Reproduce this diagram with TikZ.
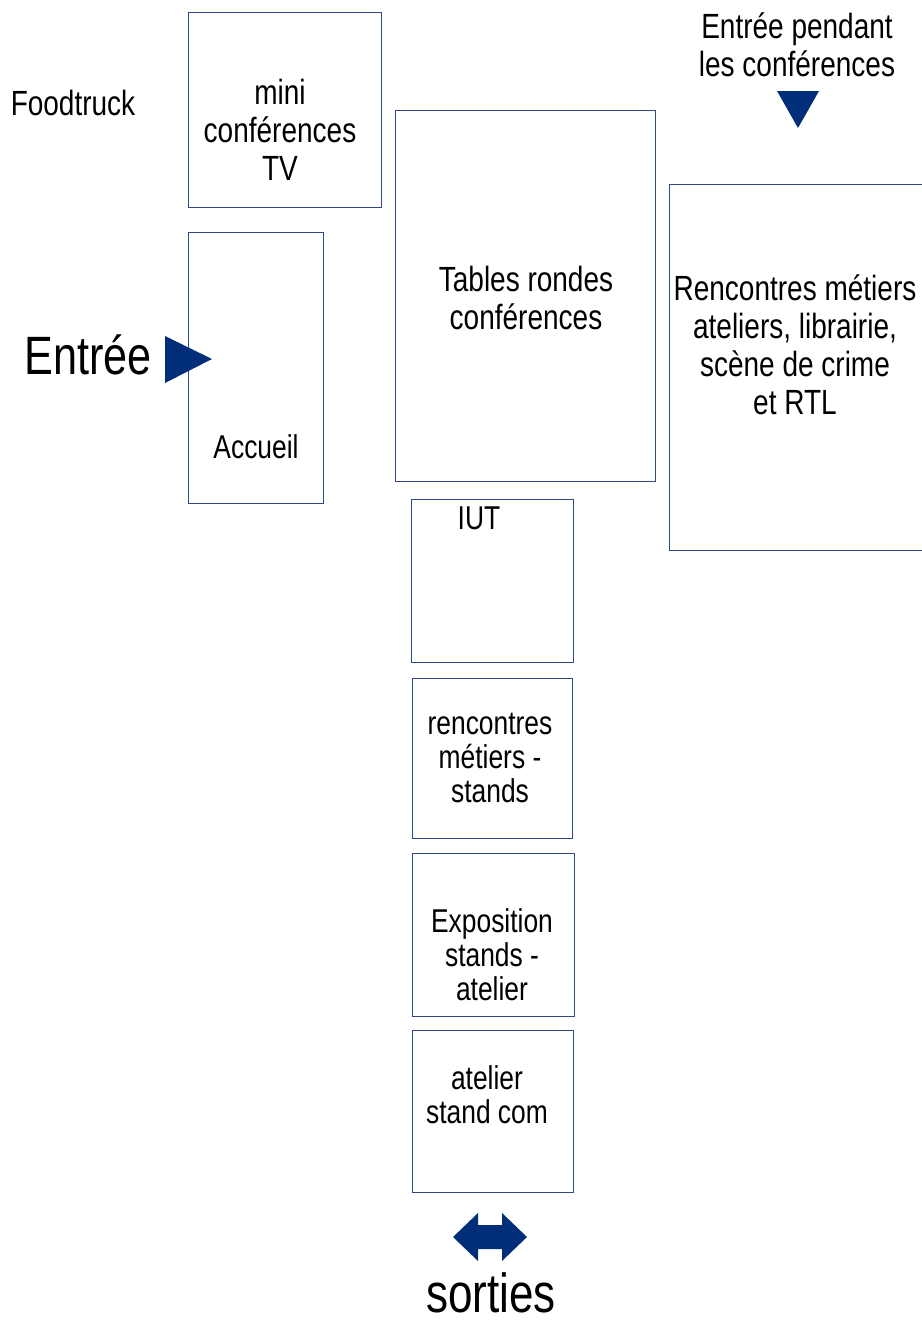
\documentclass[tikz,border=0pt]{standalone}
\usepackage{fontspec}
\setmainfont{Liberation Sans}[FakeStretch=0.8]
\definecolor{boxblue}{RGB}{47,74,140}
\definecolor{arrowblue}{RGB}{0,46,120}
\begin{document}
\begin{tikzpicture}[x=1pt,y=-1pt,
  room/.style={draw=boxblue,line width=1pt,fill=none,inner sep=0pt},
  txtA/.style={align=center,inner sep=0pt,font=\fontsize{35}{38}\selectfont},
  txtB/.style={align=center,inner sep=0pt,font=\fontsize{33}{34}\selectfont},
  pointer/.style={fill=arrowblue,draw=none}]
\useasboundingbox (0,0) rectangle (921,1322);
% rooms
\draw[room] (188,13) rectangle (381,207);
\draw[room] (188,232) rectangle (323,503);
\draw[room] (395,110) rectangle (655,481);
\draw[room] (669,184) rectangle (930,550);
\draw[room] (411,499) rectangle (573,662);
\draw[room] (412,678) rectangle (572,838);
\draw[room] (412,853) rectangle (574,1016);
\draw[room] (412,1030) rectangle (573,1192);
% texts
\node[txtA] (food) at (73,103) {Foodtruck};
\node[txtA] (mini) at (280,130) {mini\\conférences\\TV};
\node[txtB] (acc) at (256,447) {Accueil};
\node[txtA] (tables) at (526,298) {Tables rondes\\conférences};
\node[txtA] (renc) at (795,345) {Rencontres métiers\\ateliers, librairie,\\scène de crime\\et RTL};
\node[txtA] (entp) at (797,45) {Entrée pendant\\les conférences};
\node[txtB] (iut) at (479,518) {IUT};
\node[txtB] (rms) at (490,758) {rencontres\\métiers -\\stands};
\node[txtB] (expo) at (492,955) {Exposition\\stands -\\atelier};
\node[txtB] (atel) at (487,1095) {atelier\\stand com};
\node[align=center,inner sep=0pt,font=\fontsize{54}{58}\selectfont] (entree) at (88,355) {Entrée};
\node[align=center,inner sep=0pt,font=\fontsize{55}{60}\selectfont] (sorties) at (491,1293) {sorties};
% pointers
\fill[pointer] (165,336) -- (212,359) -- (165,383) -- cycle;
\fill[pointer] (777,91) -- (819,91) -- (798,128) -- cycle;
\fill[pointer] (453,1237) -- (478,1213) -- (478,1225) -- (502,1225) -- (502,1213) -- (527,1237) -- (502,1261) -- (502,1249) -- (478,1249) -- (478,1261) -- cycle;
\end{tikzpicture}
\end{document}
